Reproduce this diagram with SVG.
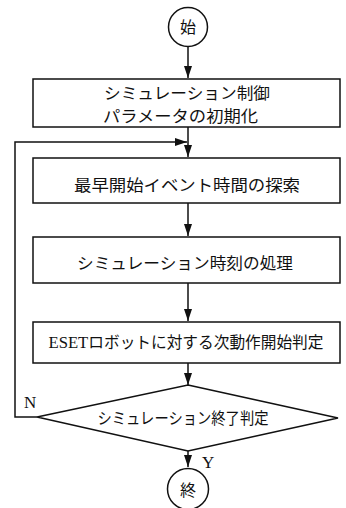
<svg xmlns="http://www.w3.org/2000/svg" width="346" height="508" viewBox="0 0 346 508">
<style>
.s{fill:none;stroke:#111;stroke-width:1.5}
.b{fill:#fff;stroke:#111;stroke-width:1.5}
.t{font-family:"Noto Sans CJK JP","Liberation Serif",serif;font-size:16px;fill:#111}
.l{font-family:"Liberation Serif",serif;font-size:17px;fill:#111}
</style>
<defs>
<marker id="ah" markerWidth="12" markerHeight="8" refX="12" refY="4" orient="auto" markerUnits="userSpaceOnUse" viewBox="0 0 12 8">
<path d="M0,0 L12,4 L0,8 Z" fill="#111"/>
</marker>
</defs>
<g id="connectors">
<path class="s" d="M188,46 V78" marker-end="url(#ah)"/>
<path class="s" d="M188,127 V157" marker-end="url(#ah)"/>
<path class="s" d="M37,417 H15 V142 H187" marker-end="url(#ah)"/>
<path class="s" d="M188,203 V236" marker-end="url(#ah)"/>
<path class="s" d="M188,283 V321" marker-end="url(#ah)"/>
<path class="s" d="M188,363 V385" marker-end="url(#ah)"/>
<path class="s" d="M188,451 V467" marker-end="url(#ah)"/>
</g>
<g id="start">
<circle class="b" cx="188" cy="27" r="19.5"/>
<text class="t" x="188" y="33" text-anchor="middle" font-size="17">始</text>
</g>
<g id="init">
<rect class="b" x="33" y="79" width="307" height="48"/>
<text class="t" font-size="15"><tspan x="104" y="99" textLength="166" lengthAdjust="spacingAndGlyphs">シミュレーション制御</tspan><tspan x="103" y="122" textLength="155" lengthAdjust="spacingAndGlyphs">パラメータの初期化</tspan></text>
</g>
<g id="search">
<rect class="b" x="33" y="158" width="307" height="45"/>
<text class="t" x="187" y="191" text-anchor="middle" textLength="226" lengthAdjust="spacingAndGlyphs">最早開始イベント時間の探索</text>
</g>
<g id="time">
<rect class="b" x="33" y="237" width="307" height="46"/>
<text class="t" x="185" y="269" text-anchor="middle" textLength="216" lengthAdjust="spacingAndGlyphs">シミュレーション時刻の処理</text>
</g>
<g id="judge">
<rect class="b" x="33" y="322" width="307" height="41"/>
<text x="186" y="348" text-anchor="middle" textLength="275" lengthAdjust="spacingAndGlyphs"><tspan class="l" font-size="16">ESET</tspan><tspan class="t">ロボットに対する次動作開始判定</tspan></text>
</g>
<g id="decision">
<path class="b" d="M188,385 L338,418 L188,451 L37,417 Z"/>
<text class="t" x="183" y="424" text-anchor="middle" textLength="171" lengthAdjust="spacingAndGlyphs">シミュレーション終了判定</text>
<text class="l" x="24" y="408">N</text>
<text class="l" x="202" y="468">Y</text>
</g>
<g id="end">
<circle class="b" cx="188" cy="489" r="20.5"/>
<text class="t" x="188" y="496" text-anchor="middle" font-size="17">終</text>
</g>
</svg>
